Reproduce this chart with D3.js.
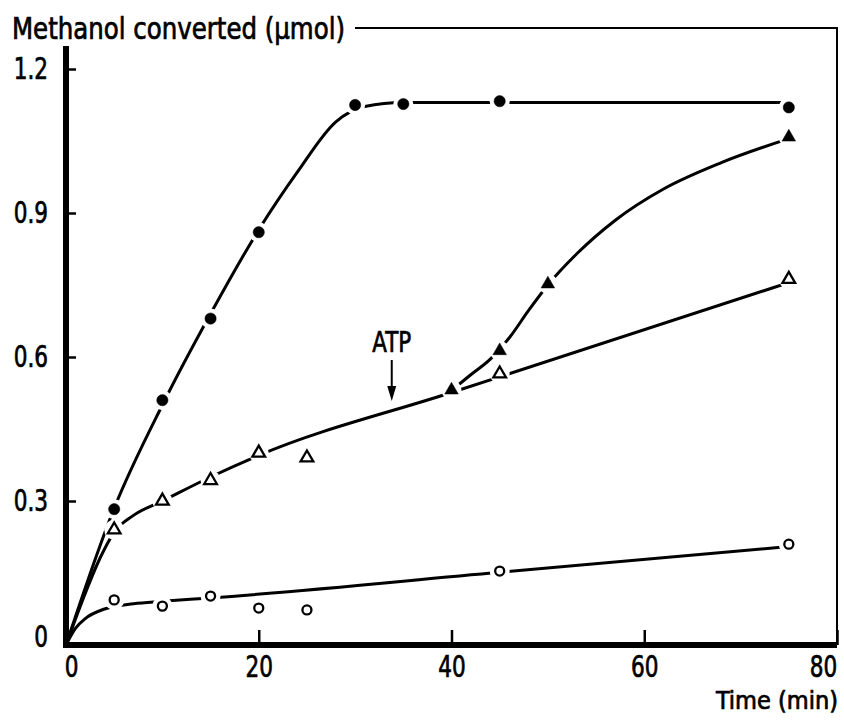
<!DOCTYPE html>
<meta charset="utf-8">
<style>
body { margin: 0; background: #fff; }
svg text {
  font-family: "Liberation Sans Narrow", "DejaVu Sans Condensed", sans-serif;
  font-size: 30px;
  fill: #000;
  stroke: #000;
  stroke-width: 0.7px;
}
</style>
<svg width="844" height="721"></svg>
<script src="https://d3js.org/d3.v7.min.js"></script>
<script>

// measured points [time (min), methanol converted (umol)]
var filledCircles   = [[5,0.283],[10,0.51],[15,0.68],[20,0.86],[30,1.125],[35,1.127],[45,1.133],[75,1.12]]
var filledTriangles = [[40,0.531],[45,0.613],[50,0.752],[75,1.058]]
var openTriangles   = [[5,0.24],[10,0.30],[15,0.343],[20,0.40],[25,0.39],[45,0.565],[75,0.762]]
var openCircles     = [[5,0.094],[10,0.081],[15,0.102],[20,0.077],[25,0.073],[45,0.154],[75,0.21]]

// hand drawn fitted curves
var curveFilledCircles   = [[0,0],[5,0.285],[10,0.5],[15,0.69],[20,0.865],[24,0.985],[28,1.09],[31,1.122],[35,1.13],[75,1.13]]
var curveOpenTriangles   = [[0,0],[4,0.2],[5,0.235],[7,0.27],[10,0.3],[15,0.35],[20,0.395],[40,0.526],[75,0.755]]
var curveFilledTriangles = [[40,0.53],[42,0.563],[44,0.595],[46,0.64],[48,0.697],[50,0.75],[53,0.815],[57,0.885],[62,0.95],[68,1.005],[75,1.055]]
var curveOpenCircles     = [[0,0],[1,0.035],[2,0.055],[4,0.075],[7,0.086],[10,0.091],[15,0.098],[45,0.1515],[75,0.205]]

var xTicks = [0, 20, 40, 60, 80]
var yTicks = [0, 0.3, 0.6, 0.9, 1.2]
var atpTime = 33.8

var svg = d3.select("svg")

var x = d3.scaleLinear().domain([0, 80]).range([66, 837]),
    y = d3.scaleLinear().domain([0, 1.2]).range([645, 69])

// squeeze text horizontally, the original uses a condensed face
function condense(sel, k) {
  sel.each(function() {
    var w = this.getComputedTextLength()
    d3.select(this).attr("textLength", w * k).attr("lengthAdjust", "spacingAndGlyphs")
  })
}

// title + frame
var title = svg.append("text")
    .attr("x", 12).attr("y", 39)
    .text("Methanol converted (µmol)")
title.attr("textLength", 333).attr("lengthAdjust", "spacingAndGlyphs")
var titleEnd = 12 + 333 + 10

svg.append("path")
    .attr("d", "M" + titleEnd + "," + 28 + "H" + x(80) + "V" + y(0))
    .attr("fill", "none").attr("stroke", "#000").attr("stroke-width", 2)

// axes
var yAxis = d3.axisLeft(y).tickValues(yTicks).tickSizeInner(-10).tickSizeOuter(0).tickPadding(18)
    .tickFormat(function(d) { return d === 0 ? "0" : d3.format(".1f")(d) })
var xAxis = d3.axisBottom(x).tickValues(xTicks).tickSizeInner(-15).tickSizeOuter(0).tickPadding(11)

var gy = svg.append("g").attr("transform", "translate(" + x(0) + ",0)").call(yAxis)
var gx = svg.append("g").attr("transform", "translate(0," + y(0) + ")").call(xAxis)
svg.selectAll(".domain").remove()
svg.selectAll(".tick line").attr("stroke", "#000").attr("stroke-width", 2.5)
svg.selectAll(".tick text").attr("font-family", null).attr("font-size", null).attr("fill", null)
gx.selectAll(".tick text").filter(function(d) { return d === 80 }).attr("dx", -14)
gx.selectAll(".tick text").filter(function(d) { return d === 0 }).attr("dx", 5)
gy.selectAll(".tick text").filter(function(d) { return d === 0 }).attr("dy", "0.05em")
condense(svg.selectAll(".tick text"), 0.8)

svg.append("line")
    .attr("x1", x(0)).attr("x2", x(0)).attr("y1", 46).attr("y2", y(0) + 3)
    .attr("stroke", "#000").attr("stroke-width", 6)
svg.append("line")
    .attr("x1", x(0) - 3).attr("x2", x(80)).attr("y1", y(0)).attr("y2", y(0))
    .attr("stroke", "#000").attr("stroke-width", 6)

svg.append("text")
    .attr("x", 838).attr("y", 709)
    .attr("text-anchor", "end")
    .style("font-size", "25px")
    .text("Time (min)")

// curves
var line = d3.line()
    .x(function(d) { return x(d[0]) })
    .y(function(d) { return y(d[1]) })
    .curve(d3.curveMonotoneX)

var curves = [curveFilledCircles, curveOpenTriangles, curveFilledTriangles, curveOpenCircles]
svg.append("g").selectAll("path")
    .data(curves)
    .enter().append("path")
    .attr("d", line)
    .attr("fill", "none")
    .attr("stroke", "#000")
    .attr("stroke-width", 3)

// markers with white halo so the curves break around them
var series = [
  {pts: filledCircles, type: d3.symbolCircle, size: 100, fill: "#000"},
  {pts: filledTriangles, type: d3.symbolTriangle, size: 80, fill: "#000"},
  {pts: openTriangles, type: d3.symbolTriangle, size: 70, fill: "#fff"},
  {pts: openCircles, type: d3.symbolCircle, size: 64, fill: "#fff"}
]

var halo = svg.append("g")
series.forEach(function(s) {
  halo.selectAll(null)
      .data(s.pts)
      .enter().append("circle")
      .attr("cx", function(d) { return x(d[0]) })
      .attr("cy", function(d) { return y(d[1]) })
      .attr("r", 10)
      .attr("fill", "#fff")
})

var marks = svg.append("g")
series.forEach(function(s) {
  marks.selectAll(null)
      .data(s.pts)
      .enter().append("path")
      .attr("transform", function(d) { return "translate(" + x(d[0]) + "," + y(d[1]) + ")" })
      .attr("d", d3.symbol().type(s.type).size(s.size))
      .attr("fill", s.fill)
      .attr("stroke", "#000")
      .attr("stroke-width", s.fill === "#000" ? 0.5 : 2.3)
      .attr("stroke-linejoin", "miter")
})

// ATP arrow
var atpY = y(0.395 + (atpTime - 20) * (0.526 - 0.395) / 20)
var ax = x(atpTime)
var atp = svg.append("text")
    .attr("x", ax).attr("y", atpY - 60)
    .attr("text-anchor", "middle")
    .style("font-size", "28px")
    .text("ATP")
condense(atp, 0.85)
svg.append("line")
    .attr("x1", ax).attr("x2", ax).attr("y1", atpY - 52).attr("y2", atpY - 24)
    .attr("stroke", "#000").attr("stroke-width", 2)
svg.append("path")
    .attr("d", "M" + (ax - 4.5) + "," + (atpY - 26) + "L" + (ax + 4.5) + "," + (atpY - 26) + "L" + ax + "," + (atpY - 11) + "Z")
    .attr("fill", "#000")

</script>
</html>
